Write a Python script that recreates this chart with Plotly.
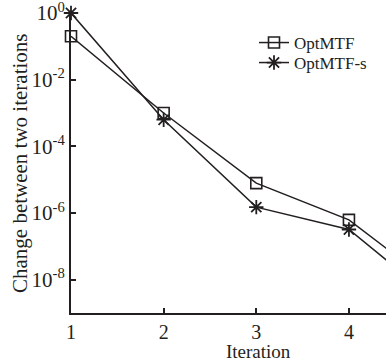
import plotly.graph_objects as go

iterations = [1, 2, 3, 4, 5]
optmtf = [0.2, 1.0e-3, 7.9e-6, 6.2e-7, 4.8e-9]
optmtf_s = [1.0, 6.3e-4, 1.5e-6, 3.2e-7, 1.7e-9]
ytick_vals = [1, 1e-2, 1e-4, 1e-6, 1e-8]
ytick_text = ["10<sup>0</sup>", "10<sup>-2</sup>", "10<sup>-4</sup>", "10<sup>-6</sup>", "10<sup>-8</sup>"]
xtick_vals = [1, 2, 3, 4]

font = "Liberation Serif, Times New Roman, serif"
col = "#231f20"

W, H = 386, 361
L, T, B = 71, 13, 48
PW, PH = W - L, H - T - B

fig = go.Figure()
fig.add_trace(go.Scatter(
    x=iterations, y=optmtf, name="OptMTF", mode="lines+markers",
    line=dict(color=col, width=1.5), legend="legend",
    marker=dict(symbol="square-open", size=11, color=col, line=dict(width=1.6, color=col)),
    cliponaxis=False))
fig.add_trace(go.Scatter(
    x=iterations, y=optmtf_s, name="OptMTF-s", mode="lines+markers",
    line=dict(color=col, width=1.5), legend="legend2",
    marker=dict(symbol="asterisk-open", size=12, color=col, line=dict(width=1.8, color=col)),
    cliponaxis=False))

leg_common = dict(x=(254 - 71) / PW, xanchor="left", yanchor="middle", bgcolor="rgba(0,0,0,0)",
                  font=dict(size=17, family=font, color=col))

fig.update_layout(
    width=W, height=H,
    margin=dict(l=L, r=0, t=T, b=B),
    paper_bgcolor="white", plot_bgcolor="white",
    font=dict(family=font, size=17, color=col),
    showlegend=True,
    legend=dict(y=1 - (43 - 13) / PH, **leg_common),
    legend2=dict(y=1 - (63 - 13) / PH, **leg_common),
    xaxis=dict(range=[1, 4.4], tickvals=xtick_vals, ticks="inside", ticklen=5,
               tickwidth=1.5, tickcolor=col, showline=True, linecolor=col, linewidth=2,
               showgrid=False, zeroline=False, automargin=False, ticklabeloverflow="allow",
               tickfont=dict(size=20, family=font)),
    yaxis=dict(type="log", range=[-9, 0], tickvals=ytick_vals, ticktext=ytick_text,
               ticks="inside", ticklen=5, tickwidth=1.5, tickcolor=col,
               showline=True, linecolor=col, linewidth=2, showgrid=False, zeroline=False,
               automargin=False, ticklabeloverflow="allow",
               tickfont=dict(size=21, family=font)),
    annotations=[
        dict(text="Iteration", x=(258 - 71) / PW, y=-(352 - 313) / PH, xref="paper", yref="paper",
             xanchor="center", yanchor="middle", showarrow=False,
             font=dict(size=19, family=font, color=col)),
        dict(text="Change between two iterations", x=-(71 - 20) / PW, y=0.5, xref="paper", yref="paper",
             xanchor="center", yanchor="middle", showarrow=False, textangle=-90,
             font=dict(size=21, family=font, color=col)),
    ],
)

fig.write_html("out.html", config={"displayModeBar": False},
               post_script="document.body.style.margin='0';")
